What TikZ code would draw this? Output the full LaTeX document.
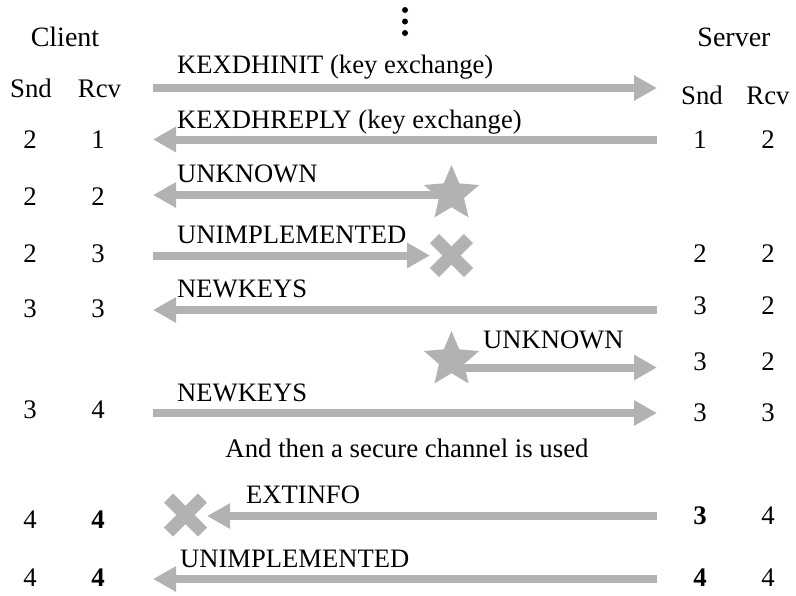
\documentclass[tikz,border=0pt]{standalone}
\usepackage{fontspec}
\setmainfont{Liberation Serif}
\usetikzlibrary{arrows.meta,shapes.geometric,shapes.misc}
\definecolor{arrowgray}{RGB}{178,178,178}
\begin{document}
\begin{tikzpicture}[x=1pt,y=-1pt,
  lbl/.style={anchor=base west,inner sep=0pt,font=\fontsize{26.6}{32}\selectfont},
  num/.style={anchor=base,inner sep=0pt,font=\fontsize{26.8}{32}\selectfont},
  hdr/.style={anchor=base,inner sep=0pt,font=\fontsize{28}{33}\selectfont},
  msg/.style={draw=arrowgray,line width=8pt,-{Triangle[length=23pt,width=24pt]}},
  starmark/.style={star,star points=5,star point ratio=2.2,minimum size=58pt,inner sep=0pt,fill=arrowgray,draw=none},
  crossmark/.style={cross out,draw=arrowgray,line width=13pt,minimum size=34pt,inner sep=0pt,outer sep=0pt},
  vdot/.style={circle,fill=black,inner sep=0pt,minimum size=6pt}
]
\useasboundingbox (0,0) rectangle (796,595);

% vertical dots
\node[vdot] (d1) at (405,10) {};
\node[vdot] (d2) at (405,21.5) {};
\node[vdot] (d3) at (405,33) {};

% headers
\node[hdr] (client) at (65,46.7) {Client};
\node[hdr] (server) at (734,46.7) {Server};
\node[num] (csnd) at (31,97) {Snd};
\node[num] (crcv) at (99.5,97) {Rcv};
\node[num] (ssnd) at (702,104) {Snd};
\node[num] (srcv) at (768,104) {Rcv};

% client counters
\node[num] (c1s) at (30,148) {2};   \node[num] (c1r) at (98,148) {1};
\node[num] (c2s) at (30,205) {2};   \node[num] (c2r) at (98,205) {2};
\node[num] (c3s) at (30,262) {2};   \node[num] (c3r) at (98,262) {3};
\node[num] (c4s) at (30,317) {3};   \node[num] (c4r) at (98,317) {3};
\node[num] (c5s) at (30,418) {3};   \node[num] (c5r) at (98,418) {4};
\node[num] (c6s) at (30,528) {4};   \node[num] (c6r) at (98,528) {\textbf{4}};
\node[num] (c7s) at (30,586) {4};   \node[num] (c7r) at (98,586) {\textbf{4}};

% server counters
\node[num] (s1s) at (700,148) {1};  \node[num] (s1r) at (768,148) {2};
\node[num] (s2s) at (700,262) {2};  \node[num] (s2r) at (768,262) {2};
\node[num] (s3s) at (700,314) {3};  \node[num] (s3r) at (768,314) {2};
\node[num] (s4s) at (700,370) {3};  \node[num] (s4r) at (768,370) {2};
\node[num] (s5s) at (700,421) {3};  \node[num] (s5r) at (768,421) {3};
\node[num] (s6s) at (700,524) {\textbf{3}}; \node[num] (s6r) at (768,524) {4};
\node[num] (s7s) at (700,586) {\textbf{4}}; \node[num] (s7r) at (768,586) {4};

% arrow end points
\coordinate (a1L) at (153,88);    \coordinate (a1R) at (657,88);
\coordinate (a2L) at (153,139.5); \coordinate (a2R) at (657,139.5);
\coordinate (a3L) at (153,195);   \coordinate (a3S) at (452,195);
\coordinate (a4L) at (153,255.5); \coordinate (a4R) at (430,255.5);
\coordinate (a5L) at (153,310);   \coordinate (a5R) at (657,310);
\coordinate (a6R) at (657,367.5); \coordinate (a6S) at (452,367.5);
\coordinate (a7L) at (153,413);   \coordinate (a7R) at (657,413);
\coordinate (a8L) at (207,516);   \coordinate (a8R) at (657,516);
\coordinate (a9L) at (153,579);   \coordinate (a9R) at (657,579);

% marks
\node[crossmark] (x1) at (451.5,255.5) {};
\node[crossmark] (x2) at (185.5,515) {};

% arrows
\draw[msg] (a1L) -- (a1R);
\draw[msg] (a2R) -- (a2L);
\draw[msg] (a3S) -- (a3L);
\draw[msg] (a4L) -- (a4R);
\draw[msg] (a5R) -- (a5L);
\draw[msg] (a6S) -- (a6R);
\draw[msg] (a7L) -- (a7R);
\draw[msg] (a8R) -- (a8L);
\draw[msg] (a9R) -- (a9L);

\node[starmark] (st1) at (451.5,194) {};
\node[starmark] (st2) at (451.5,360) {};

% labels
\node[lbl] (l1) at (177,73) {KEXDHINIT (key exchange)};
\node[lbl] (l2) at (177,128) {KEXDHREPLY (key exchange)};
\node[lbl] (l3) at (177,182) {UNKNOWN};
\node[lbl] (l4) at (177,243) {UNIMPLEMENTED};
\node[lbl] (l5) at (177,297) {NEWKEYS};
\node[lbl] (l6) at (483,348) {UNKNOWN};
\node[lbl] (l7) at (177,401) {NEWKEYS};
\node[num] (l8) at (407,457) {And then a secure channel is used};
\node[lbl] (l9) at (246,503) {EXTINFO};
\node[lbl] (l10) at (180,567) {UNIMPLEMENTED};
\end{tikzpicture}
\end{document}
